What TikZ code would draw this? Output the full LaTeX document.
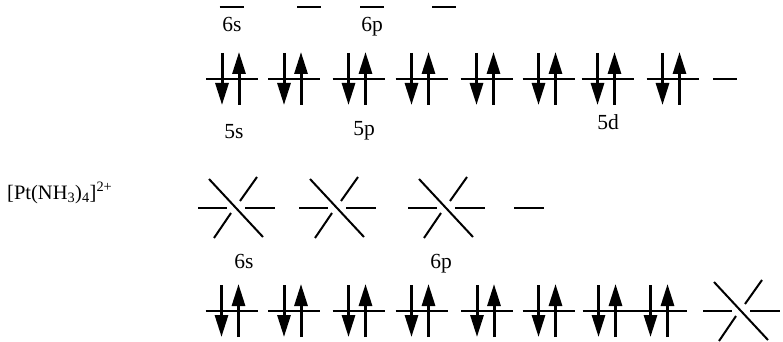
\documentclass[tikz,border=0pt]{standalone}
\usepackage{fontspec}
\setmainfont{Liberation Serif}
\usetikzlibrary{arrows.meta}
\begin{document}
\begin{tikzpicture}[x=1pt,y=-1pt,
  lvl/.style={line width=2pt},
  spin/.style={line width=3pt,-{Triangle[length=22pt,width=13pt]}},
  lab/.style={font=\fontsize{21.5}{25}\selectfont, inner sep=0pt, anchor=base},
  cplxlab/.style={font=\fontsize{20.5}{24}\selectfont, inner sep=0pt, anchor=base west},
  spinpair/.pic={
    \draw[lvl] (-26,0) -- (26,0);
    \draw[spin] (-10,-26) -- (-10,26);
    \draw[spin] (7,26) -- (7,-27);
  },
  shortlvl/.pic={\draw[lvl] (-12,0) -- (12,0);},
  widelvl/.pic={\draw[lvl] (-15,0) -- (15,0);},
  crosslvl/.pic={
    \draw[lvl] (-38,0) -- (-9,0);
    \draw[lvl] (9,0) -- (39,0);
    \draw[lvl] (-27,-29) -- (27,29);
    \draw[lvl] (-22,30) -- (-5,5);
    \draw[lvl] (4,-7) -- (21,-31);
  }
]
\useasboundingbox (0,0) rectangle (783,342);
% row 1
\pic (t1) at (231.5,7) {shortlvl};
\pic (t2) at (309,7) {shortlvl};
\pic (t3) at (372,7) {shortlvl};
\pic (t4) at (444,7) {shortlvl};
\node[lab] (a6s) at (232,32) {6s};
\node[lab] (a6p) at (372,32) {6p};
% row 2
\foreach \x [count=\i] in {232,294,358.5,421.5,486.5,548.5,607.5,672.5}
  \pic (p\i) at (\x,79) {spinpair};
\pic (p9) at (725,79) {shortlvl};
\node[lab] (a5s) at (234,138) {5s};
\node[lab] (a5p) at (364,135) {5p};
\node[lab] (a5d) at (608,129) {5d};
% row 3
\node[cplxlab] (cplx) at (7,199) {[Pt(NH\textsubscript{3})\textsubscript{4}]\textsuperscript{2+}};
\pic (c1) at (236,208) {crosslvl};
\pic (c2) at (337,208) {crosslvl};
\pic (c3) at (446,208) {crosslvl};
\pic (c4) at (529,208) {widelvl};
\node[lab] (b6s) at (244,268) {6s};
\node[lab] (b6p) at (441,268) {6p};
% row 4
\foreach \x [count=\i] in {231.5,294,358.5,421.5,487,548.5,608.5,660.5}
  \pic (q\i) at (\x,311) {spinpair};
\pic (q9) at (741,311) {crosslvl};
\end{tikzpicture}
\end{document}
